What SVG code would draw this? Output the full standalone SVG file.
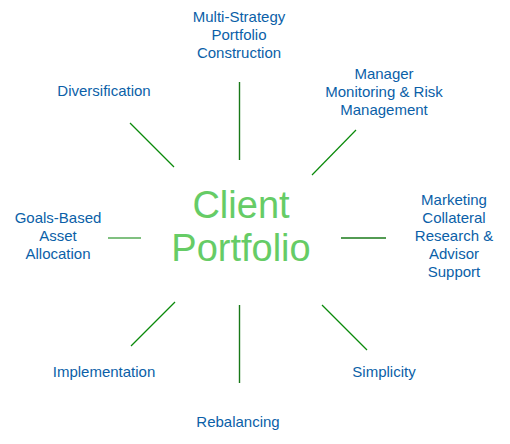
<svg xmlns="http://www.w3.org/2000/svg" width="510" height="444" viewBox="0 0 510 444">
<style>
.lbl{font-family:"Liberation Sans",Arial,sans-serif;font-size:15px;fill:#0b5fa8;text-anchor:middle}
.ctr{font-family:"Liberation Sans",Arial,sans-serif;font-size:38px;fill:#66cc66;text-anchor:middle}
.ln{stroke:#0a8a0a;stroke-width:1.2;fill:none}
.lnv{stroke:#187818;stroke-width:1.4;fill:none}
</style>
<rect width="510" height="444" fill="#ffffff"/>
<g id="connectors">
<line class="lnv" x1="239.5" y1="82" x2="239.5" y2="160"/>
<line class="lnv" x1="239.5" y1="305" x2="239.5" y2="383"/>
<line class="ln" x1="130" y1="123" x2="174" y2="167"/>
<line class="ln" x1="356" y1="130" x2="312" y2="175"/>
<line class="ln" x1="131" y1="346" x2="175" y2="302"/>
<line class="ln" x1="322" y1="305" x2="367" y2="350"/>
<line x1="108" y1="238" x2="141" y2="238" stroke="#80c080" stroke-width="2"/>
<line x1="341" y1="238" x2="386" y2="238" stroke="#1a7a1a" stroke-width="1.5"/>
</g>
<g id="center"><text class="ctr" x="241" y="218">Client</text><text class="ctr" x="241" y="261">Portfolio</text></g>
<g id="multi"><text class="lbl" x="239" y="22">Multi-Strategy</text><text class="lbl" x="239" y="40">Portfolio</text><text class="lbl" x="239" y="58">Construction</text></g>
<g id="manager"><text class="lbl" x="384" y="79">Manager</text><text class="lbl" x="384" y="97">Monitoring &amp; Risk</text><text class="lbl" x="384" y="115">Management</text></g>
<g id="diversification"><text class="lbl" x="104" y="96">Diversification</text></g>
<g id="goals"><text class="lbl" x="58" y="223">Goals-Based</text><text class="lbl" x="58" y="241">Asset</text><text class="lbl" x="58" y="259">Allocation</text></g>
<g id="marketing"><text class="lbl" x="454" y="205">Marketing</text><text class="lbl" x="454" y="223">Collateral</text><text class="lbl" x="454" y="241">Research &amp;</text><text class="lbl" x="454" y="259">Advisor</text><text class="lbl" x="454" y="277">Support</text></g>
<g id="implementation"><text class="lbl" x="104" y="377">Implementation</text></g>
<g id="simplicity"><text class="lbl" x="384" y="377">Simplicity</text></g>
<g id="rebalancing"><text class="lbl" x="238" y="427">Rebalancing</text></g>
</svg>
